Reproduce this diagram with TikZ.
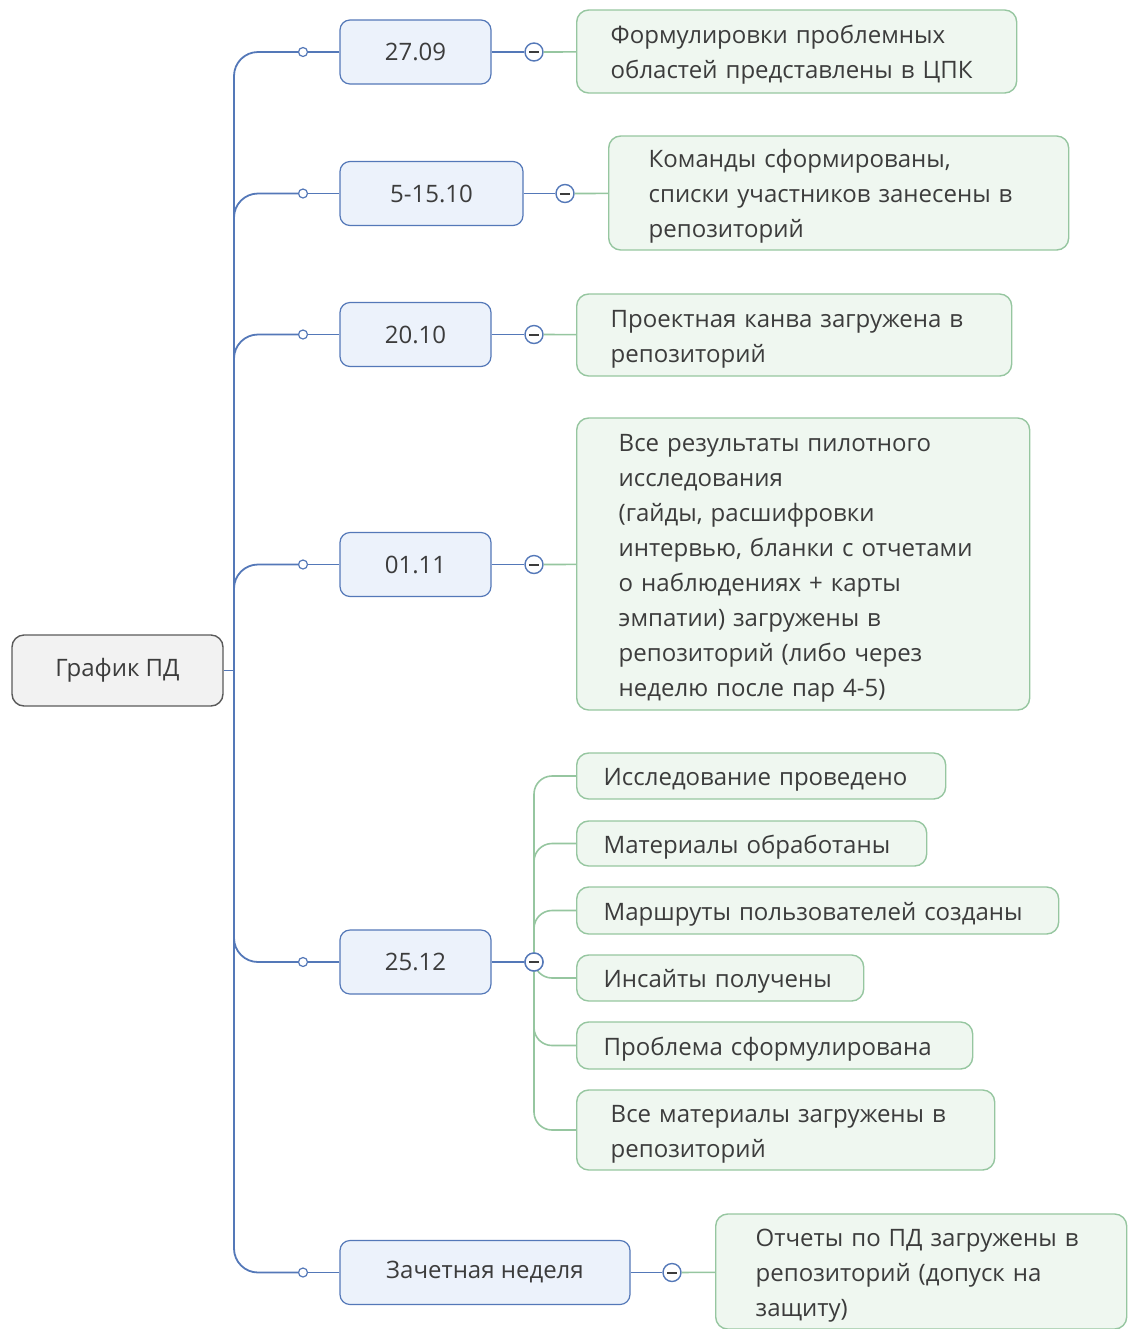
\documentclass[tikz,border=0pt]{standalone}
\usepackage{fontspec}
\setmainfont{Open Sans}
\usetikzlibrary{positioning}
\definecolor{pdblue}{RGB}{84,120,184}
\definecolor{pdbluefill}{RGB}{236,242,251}
\definecolor{pdgreen}{RGB}{150,198,160}
\definecolor{pdgreenfill}{RGB}{239,247,240}
\definecolor{pdgray}{RGB}{90,90,90}
\definecolor{pdgrayfill}{RGB}{242,242,242}
\definecolor{pdtext}{RGB}{60,60,60}
\tikzstyle{topic} = [rectangle, rounded corners=6pt, draw=pdgray, fill=pdgrayfill, minimum width=105.5pt, minimum height=35.5pt, text=pdtext, line width=0.7pt]
\tikzstyle{date} = [rectangle, rounded corners=5pt, draw=pdblue, fill=pdbluefill, minimum width=75.5pt, minimum height=32pt, text=pdtext, line width=0.6pt]
\tikzstyle{goal} = [rectangle, rounded corners=6pt, draw=pdgreen, fill=pdgreenfill, align=left, anchor=west, inner xsep=17pt, inner ysep=0pt, text=pdtext, line width=0.7pt, execute at begin node={\rule{0pt}{12.5pt}}]
\tikzstyle{trunk} = [draw=pdblue, line width=0.9pt, rounded corners=12pt]
\tikzstyle{leaf} = [draw=pdgreen, line width=0.8pt, rounded corners=9pt]
\tikzstyle{joint} = [circle, draw=pdblue, fill=white, inner sep=0pt, minimum size=4.5pt, line width=0.6pt]
\tikzstyle{toggle} = [circle, draw=pdblue, fill=white, inner sep=0pt, minimum size=9pt, line width=0.7pt, path picture={\draw[line width=1pt, pdtext] (path picture bounding box.center) ++(-2.3pt,0) -- ++(4.6pt,0);}]

\begin{document}
\begin{tikzpicture}[x=0.5pt, y=-0.5pt, font=\fontsize{12pt}{17.5pt}\selectfont]
\useasboundingbox (0,0) rectangle (1130,1329);

\node[topic] (plan) at (117.5,670.5) {График ПД};
\coordinate (hub) at (234,670.5);

\node[date] (d1) at (415.5,52) {27.09};
\node[date, minimum width=91.5pt] (d2) at (431.5,193.5) {5-15.10};
\node[date] (d3) at (415.5,334.5) {20.10};
\node[date] (d4) at (415.5,564.5) {01.11};
\node[date] (d5) at (415.5,962) {25.12};
\node[date, minimum width=145pt] (d6) at (485,1272.5) {Зачетная неделя};

\node[joint] (j1) at (303,52) {};
\node[joint] (j2) at (303,193.5) {};
\node[joint] (j3) at (303,334.5) {};
\node[joint] (j4) at (303,564.5) {};
\node[joint] (j5) at (303,962) {};
\node[joint] (j6) at (303,1272.5) {};

\node[toggle] (t1) at (534,52) {};
\node[toggle] (t2) at (565,193.5) {};
\node[toggle] (t3) at (534,334.5) {};
\node[toggle] (t4) at (534,564.5) {};
\node[toggle] (t5) at (534,962) {};
\node[toggle] (t6) at (672,1272.5) {};

\node[goal, text width=186pt, minimum height=41.5pt] (g1) at (576,51.5) {Формулировки проблемных\\областей представлены в ЦПК};
\node[goal, inner xsep=20pt, text width=190pt, minimum height=57pt] (g2) at (608,193) {Команды сформированы,\\списки участников занесены в\\репозиторий};
\node[goal, text width=183.5pt, minimum height=41pt] (g3) at (576,335) {Проектная канва загружена в\\репозиторий};
\node[goal, inner xsep=21pt, text width=184.5pt, minimum height=146pt] (g4) at (576,564) {Все результаты пилотного\\исследования\\(гайды, расшифровки\\интервью, бланки с отчетами\\о наблюдениях + карты\\эмпатии) загружены в\\репозиторий (либо через\\неделю после пар 4-5)};
\node[goal, inner xsep=20pt, text width=165.5pt, minimum height=57.5pt] (g5) at (715,1271.5) {Отчеты по ПД загружены в\\репозиторий (допуск на\\защиту)};

\node[goal, inner xsep=13.5pt, text width=157.5pt, minimum height=23pt] (s1) at (576,776) {Исследование проведено};
\node[goal, inner xsep=13.5pt, text width=148pt, minimum height=22.5pt] (s2) at (576,843.5) {Материалы обработаны};
\node[goal, inner xsep=13.5pt, text width=214pt, minimum height=23.5pt] (s3) at (576,910.5) {Маршруты пользователей созданы};
\node[goal, inner xsep=13.5pt, text width=116.5pt, minimum height=23pt] (s4) at (576,978) {Инсайты получены};
\node[goal, inner xsep=13.5pt, text width=171pt, minimum height=23.5pt] (s5) at (576,1045.5) {Проблема сформулирована};
\node[goal, text width=175pt, minimum height=40pt] (s6) at (576,1130) {Все материалы загружены в\\репозиторий};

\draw[trunk] (plan) -- (hub);
\foreach \i in {1,...,6} {
  \draw[trunk] (hub) |- (j\i);
  \draw[trunk] (j\i) -- (d\i);
  \draw[trunk] (d\i) -- (t\i);
}
\foreach \i in {1,...,4} \draw[leaf] (t\i) -- (g\i);
\draw[leaf] (t6) -- (g5);
\foreach \i in {1,...,6} \draw[leaf] (t5) |- (s\i);
\node[toggle] at (t5) {};
\end{tikzpicture}
\end{document}
